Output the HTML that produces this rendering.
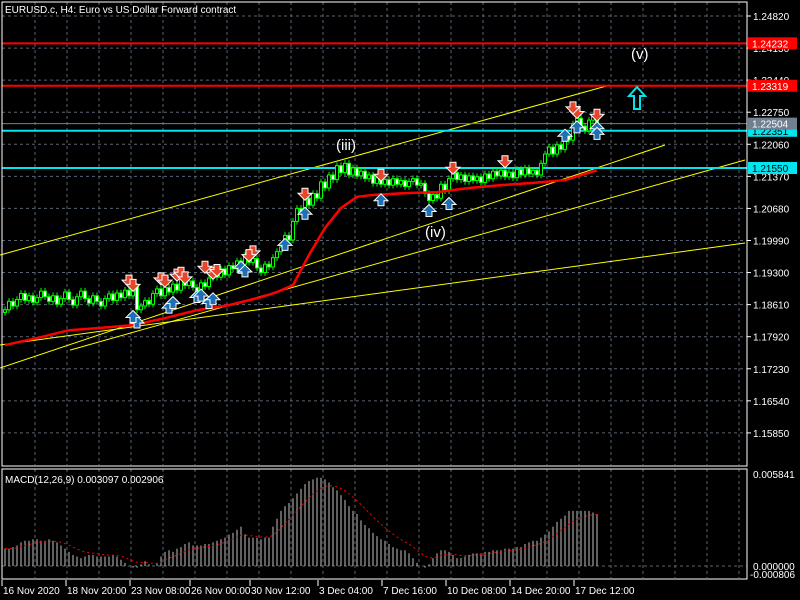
<!DOCTYPE html>
<html><head><meta charset="utf-8"><style>
html,body{margin:0;padding:0;background:#000;}
svg{display:block;font-family:"Liberation Sans",sans-serif;}
</style></head><body>
<svg id="c" width="800" height="600" viewBox="0 0 800 600">
<rect width="800" height="600" fill="#000"/>
<g id="grid"></g><g id="objs"></g><g id="candles"></g><g id="ma"></g><g id="marks"></g><g id="macd"></g><g id="axes"></g>
</svg>
<script>
const closes=[1.1850,1.1868,1.1858,1.1872,1.1885,1.1870,1.1880,1.1866,1.1876,1.1890,1.1878,1.1868,1.1880,1.1862,1.1874,1.1888,1.1872,1.1860,1.1878,1.1890,1.1874,1.1864,1.1880,1.1868,1.1858,1.1874,1.1884,1.1870,1.1886,1.1876,1.1892,1.1880,
1.1900,1.1850,1.1858,1.1870,1.1862,1.1885,1.1895,1.1880,1.1898,
1.1888,1.1905,1.1892,1.1915,1.1902,1.1912,1.1898,1.1890,1.1908,1.1900,1.1918,
1.1930,1.1920,1.1938,1.1925,1.1945,1.1938,1.1955,1.1948,1.1968,1.1952,1.1960,
1.1940,1.1930,1.1948,1.1942,1.1962,1.1975,
1.1985,1.2010,1.2000,1.2040,1.2068,1.2060,1.2090,1.2075,1.2100,1.2090,1.2125,1.2112,1.2140,1.2130,
1.2160,1.2145,1.2165,1.2140,1.2155,1.2138,1.2148,1.2132,
1.2140,1.2122,1.2134,1.2120,1.2130,1.2118,1.2132,1.2120,1.2128,1.2115,1.2126,1.2132,1.2118,1.2122,1.2100,
1.2085,1.2098,1.2090,1.2120,1.2106,1.2132,1.2145,
1.2130,1.2140,1.2126,1.2138,1.2128,1.2136,1.2124,1.2142,1.2132,1.2148,1.2138,1.2150,1.2136,1.2146,1.2134,1.2152,1.2140,1.2155,1.2142,1.2150,1.2140,
1.2165,1.2185,1.2200,1.2185,1.2205,1.2195,1.2225,1.2215,1.2250,1.2262,1.2245,1.2235,1.2258,1.2265,1.2250];
const maBars=[0,8,16,24,32,40,48,56,64,68,72,76,80,84,88,92,100,108,116,124,132,140,148];
const maVals=[1.1774,1.1789,1.1806,1.1811,1.1817,1.1832,1.1849,1.1860,1.1877,1.1888,1.1903,1.1968,1.2026,1.2069,1.2093,1.2097,1.2101,1.2103,1.2112,1.2118,1.2123,1.2129,1.2150];
const macdHist=[1.1,1.1,1.2,1.3,1.5,1.6,1.6,1.7,1.7,1.6,1.6,1.7,1.6,
1.5,1.3,1.1,0.9,0.7,0.6,0.5,0.6,
0.7,0.7,0.6,0.6,0.6,0.6,0.7,0.6,0.4,0.2,
0.0,-0.1,-0.1,0.1,0.3,0.1,0.0,0.2,
0.6,0.9,1.0,0.9,1.1,1.2,1.4,1.5,1.3,1.3,1.3,1.4,
1.4,1.5,1.6,1.7,1.8,2.0,2.1,2.3,2.5,2.0,1.8,1.8,
1.8,1.7,1.8,1.8,
2.5,3.0,3.5,3.8,4.0,4.3,4.6,4.9,5.2,5.4,5.5,5.6,5.6,5.5,
5.3,5.0,4.8,4.5,4.2,3.8,3.5,3.3,2.9,2.6,
2.4,2.1,1.9,1.7,1.6,1.4,1.2,1.1,1.0,1.0,0.8,0.5,0.2,0.0,-0.1,
0.1,0.5,0.8,1.0,1.0,0.9,0.7,0.5,
0.5,0.6,0.7,0.8,0.8,0.8,0.9,0.9,1.0,1.0,1.0,1.1,1.1,1.1,1.2,1.2,1.4,1.5,1.6,1.6,
1.8,2.0,2.2,2.5,2.8,3.0,3.2,3.5,3.5,3.5,3.5,3.5,3.5,3.4,3.3];
const priceTicks=[1.24820,1.24130,1.23440,1.22750,1.22060,1.21370,1.20680,1.19990,1.19300,1.18610,1.17920,1.17230,1.16540,1.15850];
const dateLabels=["16 Nov 2020","18 Nov 20:00","23 Nov 08:00","26 Nov 00:00","30 Nov 12:00","3 Dec 04:00","7 Dec 16:00","10 Dec 08:00","14 Dec 20:00","17 Dec 12:00"];
const dateBars=[0,16,32,47,62,79,95,111,127,143];
const hLevels=[{p:1.24232,c:"#ff0000",t:"#fff",n:"resistance-line-1"},{p:1.23319,c:"#ff0000",t:"#fff",n:"resistance-line-2"},{p:1.22351,c:"#00e5ee",t:"#000",n:"support-line-1"},{p:1.21550,c:"#00e5ee",t:"#000",n:"support-line-2"}];
const trendlines=[[-1.25,1.19677,151.25,1.23335],[-1.25,1.17245,165,1.22044],[16.25,1.17632,185,1.21721],[-1.25,1.17740,185,1.19935]];
const downMarks=[[31,1.1905],[32,1.1896],[39,1.1910],[40,1.1905],[43,1.1918],[44,1.1922],[45,1.1912],[50,1.1935],[52,1.1922],[53,1.1928],[62,1.1968],[61,1.1960],[75,1.2092],[94,1.2133],[112,1.2148],[125,1.2162],[143,1.2268],[142,1.2278],[148,1.2262]];
const upMarks=[[33,1.1830],[32,1.1842],[41,1.1862],[42,1.1872],[48,1.1885],[49,1.1888],[51,1.1872],[52,1.1880],[59,1.1948],[60,1.1940],[70,1.1997],[75,1.2064],[94,1.2093],[106,1.2070],[111,1.2085],[140,1.2232],[143,1.2250],[148,1.2248],[148,1.2236]];
const NS="http://www.w3.org/2000/svg";
const yP=p=>16+(1.2482-p)/0.0069*32.07;
const xB=i=>5+i*4;
const zeroY=566, macdScale=92/5.841;
const yM=v=>zeroY-v*macdScale;
function mk(parent,tag,attrs){const e=document.createElementNS(NS,tag);for(const k in attrs)e.setAttribute(k,attrs[k]);document.getElementById(parent).appendChild(e);return e;}
for(let x=35;x<745;x+=32){
 let g=mk("grid","line",{x1:x,y1:2,x2:x,y2:465,stroke:"#5a6470","stroke-dasharray":"3,3"});
 
 
 let g2=mk("grid","line",{x1:x,y1:469,x2:x,y2:578,stroke:"#5a6470","stroke-dasharray":"3,3"});
 
 
}
priceTicks.forEach(p=>{
 let g=mk("grid","line",{x1:2,y1:yP(p),x2:747,y2:yP(p),stroke:"#5a6470","stroke-dasharray":"3,3"});
 
 
});
let zl=mk("grid","line",{x1:2,y1:zeroY,x2:747,y2:zeroY,stroke:"#5a6470","stroke-dasharray":"3,3"});


trendlines.forEach(t=>{
 let l=mk("objs","line",{x1:xB(t[0]),y1:yP(t[1]),x2:xB(t[2]),y2:yP(t[3]),stroke:"#ffff00","stroke-width":1});
 
 
});
hLevels.forEach(h=>{
 let l=mk("objs","line",{x1:2,y1:yP(h.p),x2:747,y2:yP(h.p),stroke:h.c,"stroke-width":2});
 
 
});
let cur=mk("objs","line",{x1:2,y1:yP(1.22504),x2:747,y2:yP(1.22504),stroke:"#708090"});


let prev=closes[0]-0.0006;
closes.forEach((c,i)=>{
 const o=prev;prev=c;const x=xB(i);
 const hi=Math.max(o,c)+0.0007, lo=Math.min(o,c)-0.0007;
 let w=mk("candles","line",{x1:x,y1:yP(hi),x2:x,y2:yP(lo),stroke:"#00ff00"});
 
 
 const top=yP(Math.max(o,c)),bot=yP(Math.min(o,c));
 let b=mk("candles","rect",{x:x-1.5,y:top,width:3,height:Math.max(1,bot-top),fill:c>=o?"#000":"#fff",stroke:"#00ff00","stroke-width":1});
 
 
});
let mp=maBars.map((b,i)=>xB(b)+","+yP(maVals[i])).join(" ");
let ma=mk("ma","polyline",{points:mp,fill:"none",stroke:"#ff0000","stroke-width":2.5});


downMarks.forEach(m=>{const x=xB(m[0]),y=yP(m[1]);
 let a=mk("marks","path",{d:`M${x-3},${y-9}h6v5h4l-7,7l-7,-7h4z`,fill:"#e8452c",stroke:"#fff","stroke-width":1});
 
 });
upMarks.forEach(m=>{const x=xB(m[0]),y=yP(m[1]);
 let a=mk("marks","path",{d:`M${x-3},${y+9}h6v-5h4l-7,-7l-7,7h4z`,fill:"#1f6fb5",stroke:"#fff","stroke-width":1});
 
 });
macdHist.forEach((v,i)=>{
 let b=mk("macd","line",{x1:xB(i),y1:zeroY,x2:xB(i),y2:yM(v),stroke:"#c0c0c0"});
 
 
});
let s=macdHist[0],sp=[];
macdHist.forEach((v,i)=>{s=s+0.2*(v-s);sp.push(xB(i)+","+yM(s));});
let sl=mk("macd","polyline",{points:sp.join(" "),fill:"none",stroke:"#ff0000","stroke-dasharray":"2,3"});


function tx(parent,x,y,str,attrs){const t=mk(parent,"text",Object.assign({x:x,y:y,fill:"#fff","font-size":10},attrs||{}));t.textContent=str;return t;}
priceTicks.forEach(p=>{
 let tk=mk("axes","line",{x1:747,y1:yP(p),x2:751,y2:yP(p),stroke:"#fff"});
 
 
 let t=tx("axes",753,yP(p)+4,p.toFixed(5));
 
 
});
hLevels.concat([{p:1.22504,c:"#708090",t:"#fff",n:"bid-price"}]).forEach(h=>{
 const y=yP(h.p);
 let r=mk("axes","rect",{x:748,y:y-6,width:49,height:12,fill:h.c});
 
 
 let t=tx("axes",752,y+4,h.p.toFixed(5),{fill:h.t});
 
 
});
dateLabels.forEach((d,i)=>{
 const x=xB(dateBars[i])-3;
 let tk=mk("axes","line",{x1:x,y1:580,x2:x,y2:586,stroke:"#fff"});
 
 
 let t=tx("axes",x+1,594,d);
 
 
});
</script>
<script>
const svg=document.getElementById("c");
svg.insertAdjacentHTML("beforeend",`
<rect x="2" y="2" width="745" height="464" fill="none" stroke="#fff"/>
<rect x="2" y="469" width="745" height="110" fill="none" stroke="#fff"/>
<text x="5" y="13" fill="#fff" font-size="10">EURUSD.c, H4:  Euro vs US Dollar Forward contract</text>
<text x="5" y="483" fill="#fff" font-size="10">MACD(12,26,9) 0.003097 0.002906</text>
<text x="753" y="478" fill="#fff" font-size="10">0.005841</text>
<text x="753" y="570" fill="#fff" font-size="10">0.000000</text>
<text x="750" y="578" fill="#fff" font-size="10">-0.000806</text>
<text x="336" y="150" fill="#fff" font-size="15">(iii)</text>
<text x="425" y="237" fill="#fff" font-size="15">(iv)</text>
<text x="631" y="59" fill="#fff" font-size="15">(v)</text>
<path d="M637,87 l-8,9 h5 v13 h6 v-13 h5 z" fill="none" stroke="#00e5ee" stroke-width="2"/>
`);
</script>
</body></html>
